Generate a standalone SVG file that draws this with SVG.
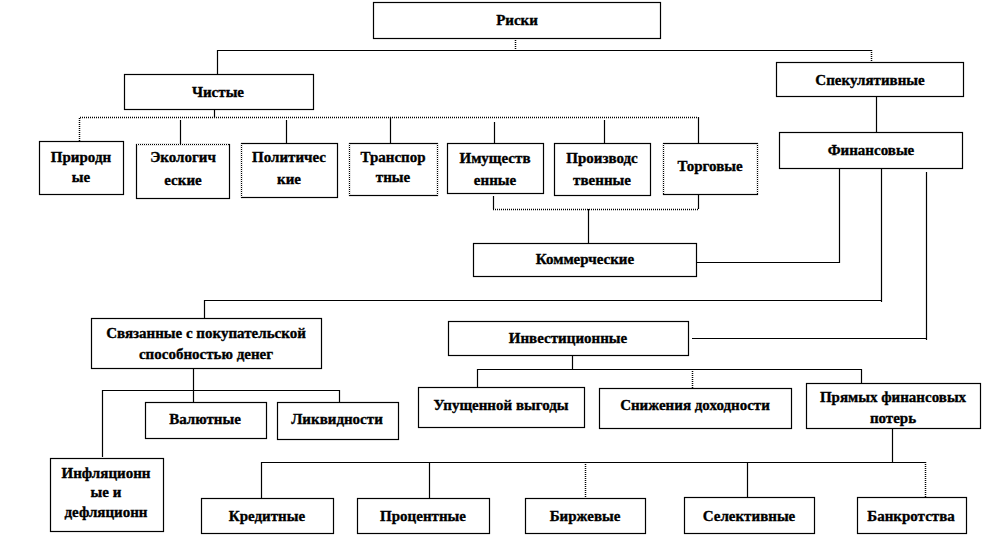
<svg xmlns="http://www.w3.org/2000/svg" width="982" height="537" viewBox="0 0 982 537">
<style>
.box{fill:#fff;stroke:#000;stroke-width:1.2}
.t{font-family:'Liberation Serif','Times New Roman','DejaVu Serif',serif;font-weight:700;font-size:15px;fill:#000;stroke:#000;stroke-width:0.35;text-anchor:middle}
.ln{fill:none;stroke:#000;stroke-width:1.2}
.dt{fill:none;stroke:#000;stroke-width:1.5;stroke-dasharray:1 1}
.de{fill:none;stroke:#fff;stroke-width:1.4;stroke-dasharray:1 1}
</style>
<rect width="982" height="537" fill="#fff"/>
<g id="connectors">
<path class="dt" d="M515.5 38V50"/>
<path class="ln" d="M217.5 74V50.5H871.5"/>
<path class="dt" d="M871.5 50V62"/>
<path class="ln" d="M214.5 109V117"/>
<path class="dt" d="M79.5 141V117.5H698"/>
<path class="ln" d="M180.5 120V144M286.5 120V143M390.5 117V143M494.5 122V143M604.5 120V143M698.5 117V143"/>
<path class="ln" d="M493.5 196V209M698.5 194V209M588.5 209V243"/>
<path class="dt" d="M493 209.5H698"/>
<path class="ln" d="M876.5 96V132"/>
<path class="ln" d="M839.5 168V262.5H696"/>
<path class="ln" d="M881.5 168V302M881.5 300.5H204.5V318"/>
<path class="ln" d="M926.5 172V340M926.5 338.5H692"/>
<path class="ln" d="M193.5 368V402M102.5 457V390.5H339.5V402"/>
<path class="ln" d="M572.5 355V369M477.5 387V369.5H861.5V383"/>
<path class="dt" d="M692.5 369V388"/>
<path class="ln" d="M892.5 428V462M261.5 498V462.5H925M429.5 462V498M747.5 462V497"/>
<path class="dt" d="M585.5 462V498M925.5 462V497"/>
</g>
<g font-family="Liberation Serif, serif">
<g id="n-riski"><rect class="box" x="373.5" y="2.5" width="287" height="36"/><text class="t" x="517" y="25">Риски</text></g>
<g id="n-chistye"><rect class="box" x="124.5" y="74.5" width="189" height="35"/><text class="t" x="218" y="97">Чистые</text></g>
<g id="n-spek"><rect class="box" x="776.5" y="62.5" width="187" height="34"/><text class="t" x="870" y="85">Спекулятивные</text></g>
<g id="n-fin"><rect class="box" x="779.5" y="132.5" width="183" height="36"/><text class="t" x="871" y="155">Финансовые</text></g>
<g id="n-prir"><rect class="box" x="39.5" y="141.5" width="84" height="53"/><text class="t" x="81" y="162">Природн</text><text class="t" x="81" y="182">ые</text></g>
<g id="n-ekol"><rect class="box" x="136.5" y="144.5" width="93" height="54"/><path class="de" d="M137 144.5H229"/><text class="t" x="183" y="162">Экологич</text><text class="t" x="183" y="185">еские</text></g>
<g id="n-polit"><rect class="box" x="241.5" y="143.5" width="96" height="54"/><path class="de" d="M241.5 144V197"/><text class="t" x="289" y="162">Политичес</text><text class="t" x="289" y="184">кие</text></g>
<g id="n-trans"><rect class="box" x="349.5" y="143.5" width="88" height="52"/><path class="de" d="M349.5 144V195M437.5 144V195"/><text class="t" x="393" y="162">Транспор</text><text class="t" x="393" y="182">тные</text></g>
<g id="n-imush"><rect class="box" x="447.5" y="143.5" width="96" height="50"/><text class="t" x="495" y="163">Имуществ</text><text class="t" x="495" y="185">енные</text></g>
<g id="n-proizv"><rect class="box" x="554.5" y="143.5" width="96" height="52"/><text class="t" x="602" y="163">Производс</text><text class="t" x="602" y="185">твенные</text></g>
<g id="n-torg"><rect class="box" x="663.5" y="143.5" width="94" height="51"/><path class="de" d="M663.5 144V194M757.5 144V194"/><text class="t" x="710" y="171">Торговые</text></g>
<g id="n-komm"><rect class="box" x="473.5" y="243.5" width="223" height="33"/><text class="t" x="585" y="264">Коммерческие</text></g>
<g id="n-svyaz"><rect class="box" x="91.5" y="318.5" width="230" height="50"/><text class="t" x="206" y="338">Связанные с покупательской</text><text class="t" x="206" y="359">способностью денег</text></g>
<g id="n-val"><rect class="box" x="145.5" y="402.5" width="121" height="36"/><text class="t" x="205" y="424">Валютные</text></g>
<g id="n-likv"><rect class="box" x="277.5" y="402.5" width="121" height="37"/><text class="t" x="337" y="424">Ликвидности</text></g>
<g id="n-infl"><rect class="box" x="50.5" y="458.5" width="113" height="73"/><text class="t" x="106" y="478">Инфляционн</text><text class="t" x="106" y="497">ые и</text><text class="t" x="106" y="517">дефляционн</text></g>
<g id="n-invest"><rect class="box" x="448.5" y="321.5" width="240" height="34"/><text class="t" x="568" y="343">Инвестиционные</text></g>
<g id="n-upush"><rect class="box" x="418.5" y="387.5" width="166" height="40"/><text class="t" x="501" y="410">Упущенной выгоды</text></g>
<g id="n-snizh"><rect class="box" x="599.5" y="388.5" width="192" height="40"/><text class="t" x="695" y="410">Снижения доходности</text></g>
<g id="n-pryam"><rect class="box" x="806.5" y="383.5" width="174" height="45"/><text class="t" x="893" y="402">Прямых финансовых</text><text class="t" x="893" y="423">потерь</text></g>
<g id="n-kred"><rect class="box" x="201.5" y="498.5" width="132" height="35"/><text class="t" x="267" y="521">Кредитные</text></g>
<g id="n-proc"><rect class="box" x="357.5" y="498.5" width="132" height="35"/><text class="t" x="423" y="521">Процентные</text></g>
<g id="n-birzh"><rect class="box" x="525.5" y="498.5" width="120" height="35"/><text class="t" x="585" y="521">Биржевые</text></g>
<g id="n-selekt"><rect class="box" x="684.5" y="497.5" width="130" height="36"/><text class="t" x="749" y="521">Селективные</text></g>
<g id="n-bankr"><rect class="box" x="857.5" y="497.5" width="109" height="36"/><text class="t" x="911" y="521">Банкротства</text></g>
</g>
</svg>
